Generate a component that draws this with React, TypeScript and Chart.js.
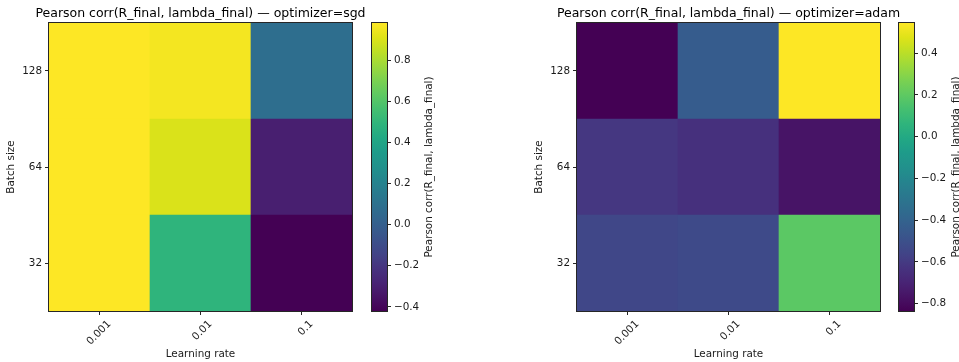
import React, { useEffect, useRef } from 'react';
import { Chart, registerables } from 'chart.js';

Chart.register(...registerables);

// ---------- data ----------
const learningRates = ['0.001', '0.01', '0.1'];
const batchSizes = ['32', '64', '128'];

// SGD correlation per batch size (columns follow learningRates)
const sgdCorr32 = [0.98, 0.49, -0.42];
const sgdCorr64 = [0.98, 0.9, -0.3];
const sgdCorr128 = [0.98, 0.96, 0.08];

// Adam correlation per batch size
const adamCorr32 = [-0.545, -0.53, 0.19];
const adamCorr64 = [-0.61, -0.64, -0.76];
const adamCorr128 = [-0.835, -0.435, 0.544];

const sgdColorbarTicks = [-0.4, -0.2, 0.0, 0.2, 0.4, 0.6, 0.8];
const adamColorbarTicks = [-0.8, -0.6, -0.4, -0.2, 0.0, 0.2, 0.4];

const titleSgd = 'Pearson corr(R_final, lambda_final) \u2014 optimizer=sgd';
const titleAdam = 'Pearson corr(R_final, lambda_final) \u2014 optimizer=adam';
const colorbarLabel = 'Pearson corr(R_final, lambda_final)';
const xAxisLabel = 'Learning rate';
const yAxisLabel = 'Batch size';

// ---------- styling ----------
const FONT = 'DejaVu Sans';
const TEXT = '#1a1a1a';
const LINE = '#262626';
const SMALL = 10.4;
const BIG = 12.5;

const VIRIDIS = [
  '#440154', '#471365', '#482475', '#46337f', '#414487', '#3b528b', '#355f8d',
  '#2f6c8e', '#2a788e', '#25848e', '#21918c', '#1e9b8a', '#22a884', '#2fb47c',
  '#44bf70', '#5ec962', '#7ad151', '#9bd93c', '#bddf26', '#dfe318', '#fde725',
];

function hexToRgb(h: string) {
  return [parseInt(h.slice(1, 3), 16), parseInt(h.slice(3, 5), 16), parseInt(h.slice(5, 7), 16)];
}

function viridis(t: number) {
  const tt = Math.max(0, Math.min(1, t));
  const n = VIRIDIS.length - 1;
  const p = tt * n;
  const i = Math.min(Math.floor(p), n - 1);
  const f = p - i;
  const a = hexToRgb(VIRIDIS[i]);
  const b = hexToRgb(VIRIDIS[i + 1]);
  const c = a.map((v, k) => Math.round(v + (b[k] - v) * f));
  return `rgb(${c[0]},${c[1]},${c[2]})`;
}

function fmtTick(v: number) {
  const s = Math.abs(v).toFixed(1);
  return v < -1e-9 ? '\u2212' + s : s;
}

const framePlugin = {
  id: 'frame',
  afterDatasetsDraw(chart: any) {
    const { ctx, chartArea } = chart;
    ctx.save();
    ctx.strokeStyle = LINE;
    ctx.lineWidth = 1;
    ctx.strokeRect(
      Math.round(chartArea.left) - 0.5,
      Math.round(chartArea.top) - 0.5,
      Math.round(chartArea.right - chartArea.left) + 1,
      Math.round(chartArea.bottom - chartArea.top) + 1
    );
    ctx.restore();
  },
};

function makeTitlePlugin(text: string) {
  return {
    id: 'panelTitle',
    afterDraw(chart: any) {
      const { ctx, chartArea } = chart;
      ctx.save();
      ctx.font = `${BIG}px "${FONT}"`;
      ctx.fillStyle = '#000';
      ctx.textAlign = 'center';
      ctx.textBaseline = 'alphabetic';
      ctx.fillText(text, (chartArea.left + chartArea.right) / 2, 17);
      ctx.restore();
    },
  };
}

function makeCbLabelPlugin(text: string) {
  return {
    id: 'cbLabel',
    afterDraw(chart: any) {
      const { ctx, chartArea } = chart;
      ctx.save();
      ctx.font = `${SMALL}px "${FONT}"`;
      ctx.fillStyle = TEXT;
      ctx.translate(chartArea.right + 42, (chartArea.top + chartArea.bottom) / 2);
      ctx.rotate(-Math.PI / 2);
      ctx.textAlign = 'center';
      ctx.textBaseline = 'middle';
      ctx.fillText(text, 0, 0);
      ctx.restore();
    },
  };
}

type HeatProps = { left: number; title: string; rows: number[][] };

const HEAT_W = 420;

function Heatmap({ left, title, rows }: HeatProps) {
  const ref = useRef<HTMLCanvasElement>(null);
  useEffect(() => {
    const all = rows.flat();
    const vmin = Math.min(...all);
    const vmax = Math.max(...all);
    const chart = new Chart(ref.current!, {
      type: 'bar',
      data: {
        labels: learningRates,
        datasets: rows.map((vals, r) => ({
          label: batchSizes[r],
          data: vals.map(() => [r, r + 1]) as any,
          backgroundColor: vals.map((v) => viridis((v - vmin) / (vmax - vmin))),
          borderWidth: 0,
          barPercentage: 1,
          categoryPercentage: 1,
          grouped: false,
        })),
      },
      options: {
        responsive: false,
        animation: false,
        layout: { padding: { top: 23, right: HEAT_W - 352, left: 0, bottom: 0 } },
        plugins: { legend: { display: false }, tooltip: { enabled: false }, title: { display: false } },
        scales: {
          x: {
            type: 'category',
            offset: true,
            grid: { display: true, drawOnChartArea: false, drawTicks: true, tickLength: 4, tickColor: LINE, offset: false },
            border: { display: false },
            ticks: {
              autoSkip: false,
              minRotation: 45,
              maxRotation: 45,
              padding: 3,
              labelOffset: 10,
              color: TEXT,
              font: { family: FONT, size: SMALL },
            },
            title: { display: true, text: xAxisLabel, color: TEXT, font: { family: FONT, size: SMALL }, padding: { top: 0, bottom: 1 } },
            afterFit: (s: any) => { s.height = 51; },
          },
          y: {
            type: 'linear',
            min: 0,
            max: 3,
            afterBuildTicks: (s: any) => { s.ticks = batchSizes.map((_, i) => ({ value: i + 0.5 })); },
            grid: { display: true, drawOnChartArea: false, drawTicks: true, tickLength: 4, tickColor: LINE },
            border: { display: false },
            ticks: {
              padding: 3,
              color: TEXT,
              font: { family: FONT, size: SMALL },
              callback: (v: any) => batchSizes[Math.floor(Number(v))] ?? '',
            },
            title: { display: true, text: yAxisLabel, color: TEXT, font: { family: FONT, size: SMALL }, padding: { top: 5, bottom: 0 } },
            afterFit: (s: any) => { s.width = 49; },
          },
        },
      } as any,
      plugins: [framePlugin, makeTitlePlugin(title)],
    });
    return () => chart.destroy();
  }, [left, title, rows]);
  return (
    <canvas ref={ref} width={HEAT_W} height={362} style={{ position: 'absolute', left, top: 0, width: HEAT_W, height: 362 }} />
  );
}

type CbProps = { left: number; width: number; rows: number[][]; ticks: number[] };

function Colorbar({ left, width, rows, ticks }: CbProps) {
  const ref = useRef<HTMLCanvasElement>(null);
  useEffect(() => {
    const all = rows.flat();
    const vmin = Math.min(...all);
    const vmax = Math.max(...all);
    const barW = 15;
    const chart = new Chart(ref.current!, {
      type: 'bar',
      data: {
        labels: [''],
        datasets: [
          {
            data: [[vmin, vmax]] as any,
            backgroundColor: (c: any) => {
              const area = c.chart.chartArea;
              if (!area) return VIRIDIS[10];
              const g = c.chart.ctx.createLinearGradient(0, area.bottom, 0, area.top);
              for (let i = 0; i <= 40; i++) g.addColorStop(i / 40, viridis(i / 40));
              return g;
            },
            borderWidth: 0,
            barPercentage: 1,
            categoryPercentage: 1,
          },
        ],
      },
      options: {
        responsive: false,
        animation: false,
        layout: { padding: { top: 23, right: 0, left: 10, bottom: 51 } },
        plugins: { legend: { display: false }, tooltip: { enabled: false }, title: { display: false } },
        scales: {
          x: { display: false, offset: true },
          y: {
            type: 'linear',
            position: 'right',
            min: vmin,
            max: vmax,
            afterBuildTicks: (s: any) => { s.ticks = ticks.map((v) => ({ value: v })); },
            grid: { display: true, drawOnChartArea: false, drawTicks: true, tickLength: 4, tickColor: LINE },
            border: { display: false },
            ticks: { padding: 3, color: TEXT, font: { family: FONT, size: SMALL }, callback: (v: any) => fmtTick(Number(v)) },
            afterFit: (s: any) => { s.width = width - 10 - barW; },
          },
        },
      } as any,
      plugins: [framePlugin, makeCbLabelPlugin(colorbarLabel)],
    });
    return () => chart.destroy();
  }, [left, width, rows, ticks]);
  return (
    <canvas ref={ref} width={width} height={362} style={{ position: 'absolute', left, top: 0, width, height: 362 }} />
  );
}

const sgdRows = [sgdCorr32, sgdCorr64, sgdCorr128];
const adamRows = [adamCorr32, adamCorr64, adamCorr128];

export default function App() {
  return (
    <div style={{ position: 'absolute', left: 0, top: 0, width: 959, height: 362, overflow: 'hidden', background: '#fff' }}>
      <Heatmap left={0} title={titleSgd} rows={sgdRows} />
      <Colorbar left={362} width={97} rows={sgdRows} ticks={sgdColorbarTicks} />
      <Heatmap left={528} title={titleAdam} rows={adamRows} />
      <Colorbar left={889} width={70} rows={adamRows} ticks={adamColorbarTicks} />
    </div>
  );
}
